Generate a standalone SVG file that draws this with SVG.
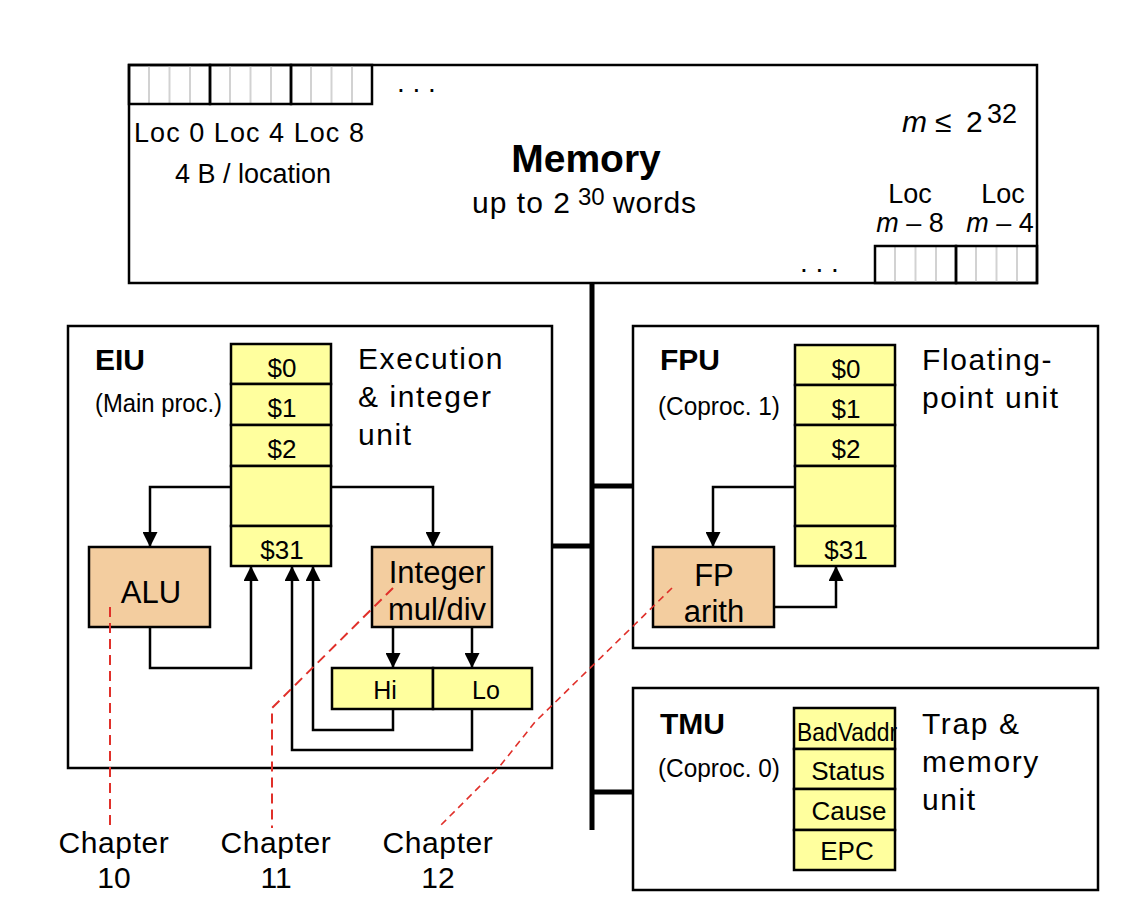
<svg xmlns="http://www.w3.org/2000/svg" width="1133" height="904" viewBox="0 0 1133 904">
<defs>
<style>
.box{fill:#fff;stroke:#000;stroke-width:2.5}
.cell{fill:none;stroke:#000;stroke-width:2.5}
.reg{fill:#ffff9e;stroke:#000;stroke-width:2.5}
.fu{fill:#f3cd9f;stroke:#000;stroke-width:2.5}
.grey{stroke:#d2d2d2;stroke-width:2}
.t{font-family:"Liberation Sans",Arial,sans-serif;fill:#000}
.c{text-anchor:middle}
.wire{fill:none;stroke:#000;stroke-width:2.5}
.bus{fill:none;stroke:#000;stroke-width:5}
.red{fill:none;stroke:#e0302a;stroke-width:2;stroke-dasharray:10 6}
.red2{fill:none;stroke:#e0302a;stroke-width:1.6;stroke-dasharray:7 5}
</style>
<marker id="ah" viewBox="0 0 10 10" refX="10" refY="5" markerWidth="15" markerHeight="15" markerUnits="userSpaceOnUse" orient="auto">
<path d="M0,0 L10,5 L0,10 z" fill="#000"/>
</marker>
</defs>
<rect width="1133" height="904" fill="#fff"/>

<g id="memory">
<rect class="box" x="129" y="65" width="908" height="218"/>
<g class="grey">
<line x1="149" y1="65" x2="149" y2="104"/><line x1="169.5" y1="65" x2="169.5" y2="104"/><line x1="190" y1="65" x2="190" y2="104"/>
<line x1="230" y1="65" x2="230" y2="104"/><line x1="250.5" y1="65" x2="250.5" y2="104"/><line x1="271" y1="65" x2="271" y2="104"/>
<line x1="311" y1="65" x2="311" y2="104"/><line x1="331.5" y1="65" x2="331.5" y2="104"/><line x1="352" y1="65" x2="352" y2="104"/>
<line x1="895" y1="246" x2="895" y2="283"/><line x1="915.5" y1="246" x2="915.5" y2="283"/><line x1="936" y1="246" x2="936" y2="283"/>
<line x1="976" y1="246" x2="976" y2="283"/><line x1="996.5" y1="246" x2="996.5" y2="283"/><line x1="1017" y1="246" x2="1017" y2="283"/>
</g>
<rect class="cell" x="129" y="65" width="81" height="39"/>
<rect class="cell" x="210" y="65" width="81" height="39"/>
<rect class="cell" x="291" y="65" width="81" height="39"/>
<rect class="cell" x="875" y="246" width="81" height="37"/>
<rect class="cell" x="956" y="246" width="81" height="37"/>
<text class="t" x="397" y="92" font-size="28">. . .</text>
<text class="t" x="800" y="272" font-size="28">. . .</text>
<text class="t" x="134" y="142" font-size="27" textLength="230" lengthAdjust="spacing">Loc 0  Loc 4  Loc 8</text>
<text class="t" x="175" y="183" font-size="27">4 B / location</text>
<text class="t c" x="586" y="172" font-size="39" font-weight="bold">Memory</text>
<text class="t" x="472" y="213" font-size="30" textLength="98" lengthAdjust="spacing">up to 2</text>
<text class="t" x="578" y="205" font-size="24">30</text>
<text class="t" x="613" y="213" font-size="30" textLength="83" lengthAdjust="spacing">words</text>
<text class="t" font-size="30" y="132"><tspan x="902" font-style="italic">m</tspan><tspan x="935">≤</tspan><tspan x="966">2</tspan></text>
<text class="t" x="987" y="123" font-size="27">32</text>
<text class="t c" x="910" y="203" font-size="27">Loc</text>
<text class="t c" x="1003" y="203" font-size="27">Loc</text>
<text class="t c" x="910" y="232" font-size="27"><tspan font-style="italic">m</tspan> – 8</text>
<text class="t c" x="1000" y="232" font-size="27"><tspan font-style="italic">m</tspan> – 4</text>
</g>

<g id="eiu">
<rect class="box" x="68" y="326" width="484" height="442"/>
<text class="t" x="95" y="370" font-size="30" font-weight="bold">EIU</text>
<text class="t" x="95" y="412" font-size="26" textLength="127" lengthAdjust="spacingAndGlyphs">(Main proc.)</text>
<text class="t" x="358" y="369" font-size="30" letter-spacing="1.6">Execution</text>
<text class="t" x="358" y="407" font-size="30" letter-spacing="1.6">&amp; integer</text>
<text class="t" x="358" y="445" font-size="30" letter-spacing="1.6">unit</text>
<g id="eiu-regs">
<rect class="reg" x="231" y="344" width="100" height="40"/>
<rect class="reg" x="231" y="384" width="100" height="41"/>
<rect class="reg" x="231" y="425" width="100" height="41"/>
<rect class="reg" x="231" y="466" width="100" height="60"/>
<rect class="reg" x="231" y="526" width="100" height="40"/>
<text class="t c" x="282" y="377" font-size="26">$0</text>
<text class="t c" x="282" y="417" font-size="26">$1</text>
<text class="t c" x="282" y="458" font-size="26">$2</text>
<text class="t c" x="282" y="559" font-size="26">$31</text>
</g>
<g id="alu">
<rect class="fu" x="89" y="547" width="121" height="80"/>
<text class="t c" x="151" y="603" font-size="31">ALU</text>
</g>
<g id="muldiv">
<rect class="fu" x="372" y="547" width="120" height="80"/>
<text class="t c" x="437" y="583" font-size="31">Integer</text>
<text class="t c" x="437" y="620" font-size="31">mul/div</text>
</g>
<g id="hilo">
<rect class="reg" x="332" y="668" width="101" height="41"/>
<rect class="reg" x="433" y="668" width="99" height="41"/>
<text class="t c" x="385" y="699" font-size="25">Hi</text>
<text class="t c" x="486" y="699" font-size="25">Lo</text>
</g>
</g>

<g id="fpu">
<rect class="box" x="633" y="326" width="465" height="322"/>
<text class="t" x="660" y="370" font-size="30" font-weight="bold">FPU</text>
<text class="t" x="658" y="415" font-size="26" textLength="122" lengthAdjust="spacingAndGlyphs">(Coproc. 1)</text>
<text class="t" x="922" y="370" font-size="30" letter-spacing="1.6">Floating-</text>
<text class="t" x="922" y="408" font-size="30" letter-spacing="1.6">point unit</text>
<g id="fpu-regs">
<rect class="reg" x="795" y="345" width="100" height="40"/>
<rect class="reg" x="795" y="385" width="100" height="40"/>
<rect class="reg" x="795" y="425" width="100" height="41"/>
<rect class="reg" x="795" y="466" width="100" height="60"/>
<rect class="reg" x="795" y="526" width="100" height="40"/>
<text class="t c" x="846" y="378" font-size="26">$0</text>
<text class="t c" x="846" y="418" font-size="26">$1</text>
<text class="t c" x="846" y="458" font-size="26">$2</text>
<text class="t c" x="846" y="559" font-size="26">$31</text>
</g>
<g id="fparith">
<rect class="fu" x="653" y="547" width="121" height="80"/>
<text class="t c" x="714" y="586" font-size="31">FP</text>
<text class="t c" x="714" y="622" font-size="31">arith</text>
</g>
</g>

<g id="tmu">
<rect class="box" x="633" y="688" width="465" height="202"/>
<text class="t" x="660" y="734" font-size="30" font-weight="bold">TMU</text>
<text class="t" x="658" y="777" font-size="26" textLength="122" lengthAdjust="spacingAndGlyphs">(Coproc. 0)</text>
<text class="t" x="922" y="734" font-size="30" letter-spacing="1.6">Trap &amp;</text>
<text class="t" x="922" y="772" font-size="30" letter-spacing="1.6">memory</text>
<text class="t" x="922" y="810" font-size="30" letter-spacing="1.6">unit</text>
<g id="tmu-regs">
<rect class="reg" x="794" y="708" width="101" height="41"/>
<rect class="reg" x="794" y="749" width="101" height="40"/>
<rect class="reg" x="794" y="789" width="101" height="41"/>
<rect class="reg" x="794" y="830" width="101" height="40"/>
<text class="t" x="797" y="741" font-size="25" textLength="100" lengthAdjust="spacingAndGlyphs">BadVaddr</text>
<text class="t c" x="848" y="780" font-size="26">Status</text>
<text class="t c" x="849" y="820" font-size="26">Cause</text>
<text class="t c" x="847" y="860" font-size="26">EPC</text>
</g>
</g>

<g id="ch10">
<text class="t c" x="114" y="853" font-size="30" letter-spacing="0.6">Chapter</text>
<text class="t c" x="114" y="888" font-size="30">10</text>
</g>
<g id="ch11">
<text class="t c" x="276" y="853" font-size="30" letter-spacing="0.6">Chapter</text>
<text class="t c" x="276" y="888" font-size="30">11</text>
</g>
<g id="ch12">
<text class="t c" x="438" y="853" font-size="30" letter-spacing="0.6">Chapter</text>
<text class="t c" x="438" y="888" font-size="30">12</text>
</g>

<g id="connectors">
<path class="bus" d="M592,283 V830 M552,546 H592 M592,486 H633 M592,792 H633"/>
<path class="wire" marker-end="url(#ah)" d="M231,487 H150 V547"/>
<path class="wire" marker-end="url(#ah)" d="M331,487 H433 V547"/>
<path class="wire" marker-end="url(#ah)" d="M150,627 V668 H251 V566"/>
<path class="wire" marker-end="url(#ah)" d="M393,627 V668"/>
<path class="wire" marker-end="url(#ah)" d="M472,627 V668"/>
<path class="wire" marker-end="url(#ah)" d="M393,709 V730 H313 V566"/>
<path class="wire" marker-end="url(#ah)" d="M472,709 V750 H292 V566"/>
<path class="wire" marker-end="url(#ah)" d="M795,487 H713 V547"/>
<path class="wire" marker-end="url(#ah)" d="M774,607 H836 V566"/>
<path class="red" d="M110,607 V828"/>
<path class="red" d="M393,588 L272,708 V828"/>
<path class="red2" d="M672,588 L535,722 L500,766 L438,828"/>
</g>
</svg>
